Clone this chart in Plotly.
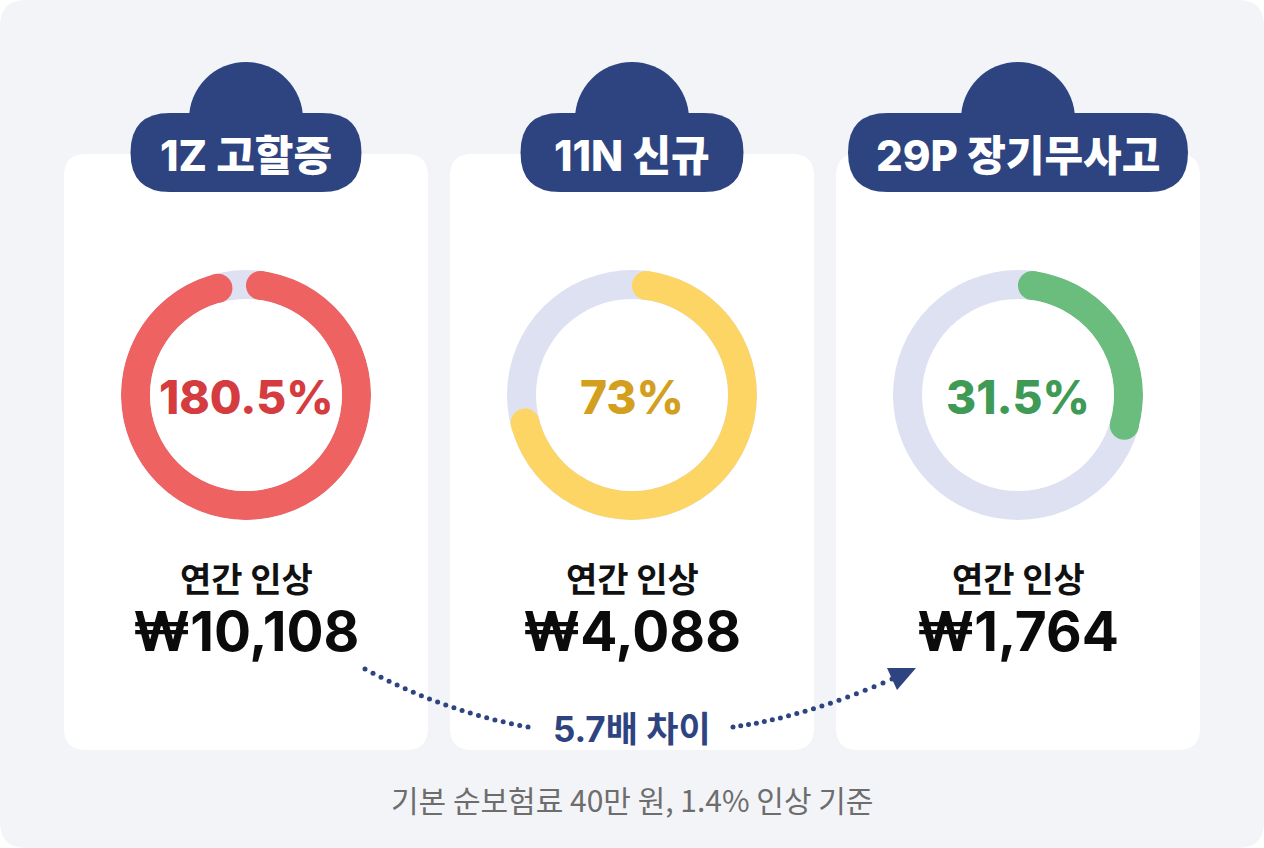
import numpy as np
import plotly.graph_objects as go

W, H = 1264, 848

# --- data ---
plans = ["1Z 고할증", "11N 신규", "29P 장기무사고"]
rates = [180.5, 73, 31.5]            # 연간 인상률 (%)
ring_share = [98, 73, 31.5]          # how much of each ring is filled (%)
amounts = [10108, 4088, 1764]        # 연간 인상액 (원)
caption = "연간 인상"
footnote = "기본 순보험료 40만 원, 1.4% 인상 기준"

ring_colors = ["#ef6262", "#fdd565", "#6bbd7d"]
text_colors = ["#d43c3f", "#d29f1e", "#3e9a55"]
track = "#dee1f2"
navy = "#2e4480"

centers = [246, 632, 1018]
badge_w = [231, 223, 340]
FONT = "Inter, 'Noto Sans CJK KR', sans-serif"
KFONT = "'Noto Sans CJK KR', Inter, sans-serif"


def rrect(x0, y0, x1, y1, r):
    return (f"M{x0+r},{y0} L{x1-r},{y0} Q{x1},{y0} {x1},{y0+r} L{x1},{y1-r} "
            f"Q{x1},{y1} {x1-r},{y1} L{x0+r},{y1} Q{x0},{y1} {x0},{y1-r} "
            f"L{x0},{y0+r} Q{x0},{y0} {x0+r},{y0} Z")


def bezier(p0, p1, p2, n):
    t = np.linspace(0, 1, n)[:, None]
    pts = (1 - t) ** 2 * np.array(p0) + 2 * (1 - t) * t * np.array(p1) + t ** 2 * np.array(p2)
    return pts[:, 0], pts[:, 1]


fig = go.Figure()
shapes = [dict(type="path", path=rrect(0, 0, W, H, 26), fillcolor="#f3f4f8",
               line=dict(width=0), layer="below")]
annotations = []

R_OUT, R_IN = 125, 96
cy = 395
cap_deg = np.degrees((R_OUT - R_IN) / 2 / ((R_OUT + R_IN) / 2))

for i, cx in enumerate(centers):
    # card
    shapes.append(dict(type="path", path=rrect(cx - 182, 154, cx + 182, 750, 22),
                       fillcolor="white", line=dict(width=0), layer="below"))
    # badge (pill + bump)
    bw = badge_w[i] / 2
    shapes.append(dict(type="path", path=rrect(cx - bw, 113, cx + bw, 192, 39.5),
                       fillcolor=navy, line=dict(width=0), layer="below"))
    shapes.append(dict(type="circle", x0=cx - 57, x1=cx + 57, y0=62, y1=176,
                       fillcolor=navy, line=dict(width=0), layer="below"))
    annotations.append(dict(x=cx, y=155, text=plans[i], showarrow=False,
                            font=dict(family=FONT, size=42, color="white", weight=800)))

    # donut ring on its own polar subplot
    pname = "polar" if i == 0 else f"polar{i+1}"
    a0 = cap_deg
    a1 = ring_share[i] * 3.6 - cap_deg
    fig.add_trace(go.Barpolar(r=[1], base=[0], theta=[(a0 + a1) / 2], width=[a1 - a0],
                              marker=dict(color=ring_colors[i], line=dict(width=0)),
                              subplot=pname, hoverinfo="skip", showlegend=False))
    fig.add_trace(go.Scatterpolar(r=[0.5, 0.5], theta=[a0, a1], mode="markers",
                                  marker=dict(size=R_OUT - R_IN, color=ring_colors[i]),
                                  subplot=pname, hoverinfo="skip", showlegend=False))
    fig.update_layout({pname: dict(
        domain=dict(x=[(cx - R_OUT) / W, (cx + R_OUT) / W],
                    y=[1 - (cy + R_OUT) / H, 1 - (cy - R_OUT) / H]),
        hole=R_IN / R_OUT, bgcolor=track,
        radialaxis=dict(range=[0, 1], visible=False),
        angularaxis=dict(rotation=90, direction="clockwise", visible=False),
    )})

    annotations.append(dict(x=cx, y=cy + 2, text=f"{rates[i]:g}%", showarrow=False,
                            font=dict(family=FONT, size=46, color=text_colors[i], weight=800)))
    annotations.append(dict(x=cx, y=577, text=caption, showarrow=False,
                            font=dict(family=KFONT, size=34, color="#111111", weight=700)))
    annotations.append(dict(x=cx, y=631, text=f"₩{amounts[i]:,}", showarrow=False,
                            font=dict(family=FONT, size=55, color="#0b0b0b", weight=700)))

# dotted connector between first and last card
lx, ly = bezier((365, 669), (445, 712), (528, 727), 21)
rx, ry = bezier((733, 727), (806, 717), (892, 679), 20)
fig.add_trace(go.Scatter(x=np.concatenate([lx, rx]), y=np.concatenate([ly, ry]),
                         mode="markers", marker=dict(size=5, color=navy),
                         hoverinfo="skip", showlegend=False))
tip = np.array([916.0, 668.0])
base = np.array([rx[-1], ry[-1]])
d = tip - base
n = np.array([-d[1], d[0]]) / np.hypot(*d) * 12
c1, c2 = base + n, base - n
shapes.append(dict(type="path", fillcolor=navy, line=dict(width=0),
                   path=f"M{tip[0]},{tip[1]} L{c1[0]},{c1[1]} L{c2[0]},{c2[1]} Z"))

ratio = amounts[0] / amounts[-1]
annotations.append(dict(x=632, y=729, text=f"{ratio:.1f}배 차이", showarrow=False,
                        font=dict(family=FONT, size=35, color=navy, weight=700)))
annotations.append(dict(x=632, y=799, text=footnote, showarrow=False,
                        font=dict(family=KFONT, size=30, color="#6d6d6d")))

for a in annotations:
    a.update(xref="x", yref="y")

fig.update_layout(
    width=W, height=H, margin=dict(l=0, r=0, t=0, b=0),
    paper_bgcolor="white", plot_bgcolor="rgba(0,0,0,0)",
    xaxis=dict(range=[0, W], visible=False, fixedrange=True, domain=[0, 1]),
    yaxis=dict(range=[H, 0], visible=False, fixedrange=True, domain=[0, 1]),
    shapes=shapes, annotations=annotations, showlegend=False,
)

fig.write_html("out.html", config={"displayModeBar": False},
               post_script="document.body.style.margin='0';document.body.style.overflow='hidden';")
